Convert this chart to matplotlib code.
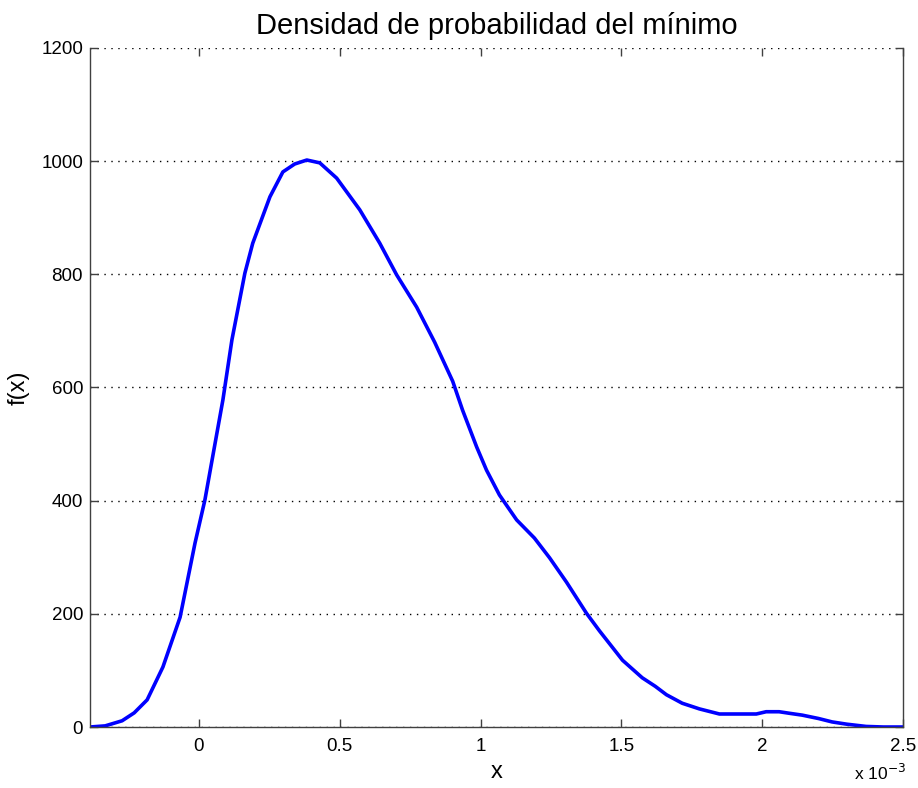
import matplotlib
matplotlib.use("Agg")
from matplotlib import pyplot as plt

# Estimated density of the minimum, x in units of 1e-3
x_milli = [
    -0.387, -0.333, -0.273, -0.230, -0.184, -0.128, -0.067, -0.014, 0.021, 0.064,
    0.085, 0.117, 0.163, 0.191, 0.252, 0.298, 0.340, 0.383, 0.429, 0.489,
    0.571, 0.642, 0.702, 0.773, 0.837, 0.901, 0.936, 0.986, 1.021, 1.067,
    1.128, 1.191, 1.245, 1.305, 1.376, 1.422, 1.504, 1.574, 1.620, 1.660,
    1.716, 1.777, 1.848, 1.900, 1.979, 2.014, 2.060, 2.100, 2.142, 2.200,
    2.248, 2.300, 2.369, 2.430, 2.496,
]
fx = [
    0, 2, 11, 25, 48, 106, 194, 325, 401, 520,
    578, 684, 802, 855, 937, 981, 995, 1002, 997, 970,
    914, 855, 799, 742, 680, 611, 560, 495, 454, 410,
    366, 334, 299, 256, 201, 170, 118, 87, 72, 57,
    42, 32, 23, 23, 23, 27, 27, 24, 21, 15,
    9, 5, 1, 0, 0,
]

y_ticks = [0, 200, 400, 600, 800, 1000, 1200]
x_ticks = [0, 0.5, 1, 1.5, 2, 2.5]
x_tick_labels = ["0", "0.5", "1", "1.5", "2", "2.5"]

plt.rcParams["font.family"] = ["Liberation Sans", "DejaVu Sans"]

fig = plt.figure(figsize=(9.18, 7.88), dpi=100)
ax = fig.add_axes([0.098, 0.0774, 0.8857, 0.8617])

ax.plot(x_milli, fx, color="#0000ff", linewidth=2.6, solid_joinstyle="round")

ax.set_xlim(x_milli[0], 2.5)
ax.set_ylim(0, 1200)
ax.set_xticks(x_ticks)
ax.set_xticklabels(x_tick_labels)
ax.set_yticks(y_ticks)

ax.yaxis.grid(True, linestyle=(0, (1, 4)), color="black", linewidth=1.0)
ax.xaxis.grid(False)

spine_color = "#404040"
for name in ("left", "bottom", "right"):
    ax.spines[name].set_color(spine_color)
    ax.spines[name].set_linewidth(1.0)
ax.spines["top"].set_visible(False)

ax.tick_params(axis="both", direction="in", length=6, width=1.0, color=spine_color,
               labelsize=13.5, top=True, right=True)
ax.tick_params(axis="x", pad=8)
ax.tick_params(axis="y", pad=5)

ax.set_title("Densidad de probabilidad del mínimo", fontsize=21, pad=10)
ax.set_xlabel("x", fontsize=17, labelpad=4)
ax.set_ylabel("f(x)", fontsize=17, labelpad=8)

fig.text(0.93, 0.006, r"x 10$^{-3}$", fontsize=12.5, ha="left", va="bottom")

fig.savefig("out.png", dpi=100)
